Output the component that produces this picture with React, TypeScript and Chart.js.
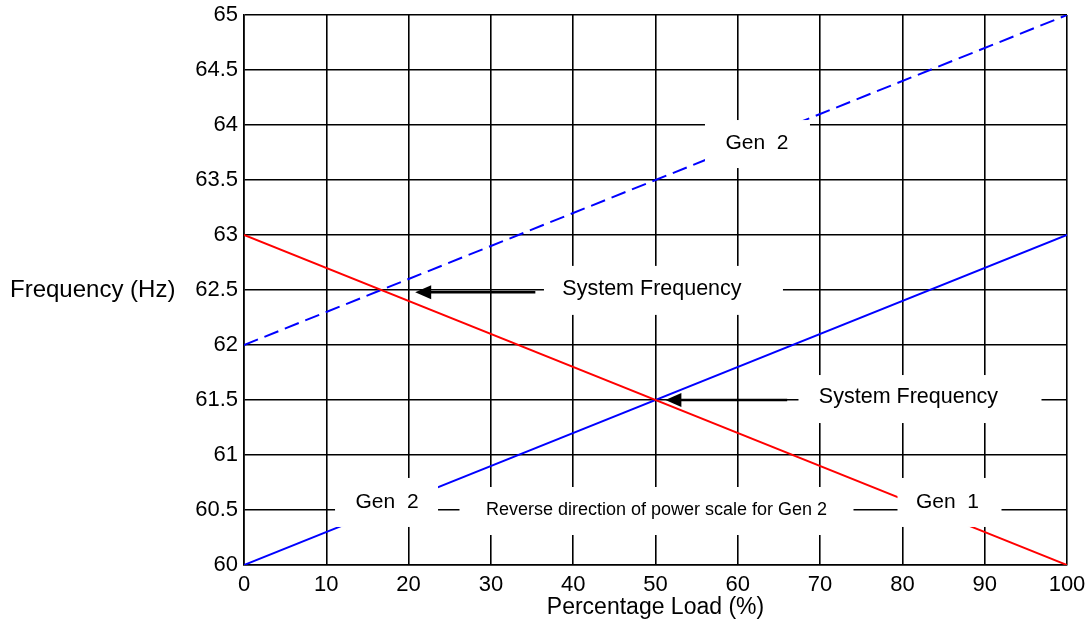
import React, { useEffect, useRef } from "react";
import { Chart, registerables } from "chart.js";

Chart.register(...registerables);

const FONT = '"Liberation Sans", Arial, Helvetica, sans-serif';

// ---- data ----
const loadPct = [0, 100];
const gen1Freq = [63, 60]; // red
const gen2Freq = [60, 63]; // blue solid
const gen2RaisedFreq = [62, 65]; // blue dashed

const xTickValues = [0, 10, 20, 30, 40, 50, 60, 70, 80, 90, 100];
const yTickValues = [60, 60.5, 61, 61.5, 62, 62.5, 63, 63.5, 64, 64.5, 65];

const xTitle = "Percentage Load (%)";
const yTitle = "Frequency (Hz)";

// annotation texts and their anchor (text centre) in data units
const labelTexts = [
  "Gen  2",
  "System Frequency",
  "System Frequency",
  "Gen  2",
  "Reverse direction of power scale for Gen 2",
  "Gen  1",
];
const labelX = [62.33, 49.57, 80.74, 17.38, 50.12, 85.48];
const labelY = [63.836, 62.51, 61.527, 60.573, 60.5, 60.573];

// arrows (tail x -> head x at a frequency level)
const arrowFromX = [35.4, 66.0];
const arrowToX = [20.8, 51.2];
const arrowY = [62.48, 61.5];

// ---- styling ----
const labelFontSize = [21, 21.5, 21.5, 21, 18, 21];
// white box extents around the text centre, px: left, right, top, bottom
const labelBoxes = [
  [52, 53, 23, 25],
  [108, 131, 23, 26],
  [110, 133, 22, 26],
  [52, 51, 24, 25],
  [197, 197, 23, 25],
  [50, 54, 24, 25],
];

const annotationPlugin = {
  id: "annotations",
  afterDatasetsDraw(chart: any) {
    const { ctx, chartArea } = chart;
    const xs = chart.scales.x;
    const ys = chart.scales.y;
    ctx.save();
    labelTexts.forEach((t, i) => {
      const cx = xs.getPixelForValue(labelX[i]);
      const cy = ys.getPixelForValue(labelY[i]);
      const [l, r, tp, b] = labelBoxes[i];
      ctx.fillStyle = "#ffffff";
      ctx.fillRect(cx - l, cy - tp, l + r, tp + b);
      ctx.fillStyle = "#000000";
      ctx.font = `${labelFontSize[i]}px ${FONT}`;
      ctx.textAlign = "center";
      ctx.textBaseline = "middle";
      ctx.fillText(t, cx, cy);
    });
    arrowFromX.forEach((fx, i) => {
      const x0 = xs.getPixelForValue(fx);
      const x1 = xs.getPixelForValue(arrowToX[i]);
      const yy = ys.getPixelForValue(arrowY[i]);
      const headLen = 16;
      const headHalf = 7;
      ctx.strokeStyle = "#000";
      ctx.lineWidth = 2.5;
      ctx.beginPath();
      ctx.moveTo(x0, yy);
      ctx.lineTo(x1 + headLen - 1, yy);
      ctx.stroke();
      ctx.fillStyle = "#000";
      ctx.beginPath();
      ctx.moveTo(x1, yy);
      ctx.lineTo(x1 + headLen, yy - headHalf);
      ctx.lineTo(x1 + headLen, yy + headHalf);
      ctx.closePath();
      ctx.fill();
    });
    ctx.fillStyle = "#000";
    ctx.font = `24px ${FONT}`;
    ctx.textAlign = "left";
    ctx.textBaseline = "middle";
    ctx.fillText(yTitle, 10, (chartArea.top + chartArea.bottom) / 2);
    ctx.restore();
  },
};

export default function App() {
  const canvasRef = useRef<HTMLCanvasElement | null>(null);

  useEffect(() => {
    const canvas = canvasRef.current;
    if (!canvas) return;
    const toPts = (ys: number[]) => loadPct.map((x, i) => ({ x, y: ys[i] }));
    const chart = new Chart(canvas, {
      type: "line",
      data: {
        datasets: [
          {
            label: "Gen 1",
            data: toPts(gen1Freq),
            borderColor: "#ff0000",
            borderWidth: 2,
            pointRadius: 0,
            tension: 0,
          },
          {
            label: "Gen 2",
            data: toPts(gen2Freq),
            borderColor: "#0000ff",
            borderWidth: 2,
            pointRadius: 0,
            tension: 0,
          },
          {
            label: "Gen 2 (raised)",
            data: toPts(gen2RaisedFreq),
            borderColor: "#0000ff",
            borderWidth: 2,
            borderDash: [15, 7],
            pointRadius: 0,
            tension: 0,
          },
        ],
      },
      options: {
        animation: false,
        responsive: false,
        devicePixelRatio: 1,
        layout: { padding: { top: 15, right: 22, left: 0, bottom: 0 } },
        plugins: {
          legend: { display: false },
          tooltip: { enabled: false },
        },
        scales: {
          x: {
            type: "linear",
            min: 0,
            max: 100,
            afterBuildTicks: (s: any) => {
              s.ticks = xTickValues.map((v) => ({ value: v }));
            },
            afterFit: (s: any) => {
              s.height = 56;
            },
            grid: { color: "#000", lineWidth: 1.6, drawTicks: false },
            border: { color: "#000", width: 1.6 },
            ticks: {
              color: "#000",
              font: { family: FONT, size: 22, lineHeight: 1.56 },
              padding: 3,
              maxRotation: 0,
              autoSkip: false,
              callback: (v: any) => String(v),
            },
            title: {
              display: true,
              text: xTitle,
              color: "#000",
              font: { family: FONT, size: 23 },
              padding: { top: 0, bottom: 0 },
            },
          },
          y: {
            type: "linear",
            min: 60,
            max: 65,
            afterBuildTicks: (s: any) => {
              s.ticks = yTickValues.map((v) => ({ value: v }));
            },
            afterFit: (s: any) => {
              s.width = 244;
            },
            grid: { color: "#000", lineWidth: 1.6, drawTicks: false },
            border: { color: "#000", width: 1.6 },
            ticks: {
              color: "#000",
              font: { family: FONT, size: 22, lineHeight: 0.7 },
              padding: 6,
              autoSkip: false,
              callback: (v: any) => String(v),
            },
          },
        },
      },
      plugins: [annotationPlugin],
    });
    return () => chart.destroy();
  }, []);

  return (
    <div
      style={{
        position: "fixed",
        left: 0,
        top: 0,
        width: 1089,
        height: 621,
        background: "#fff",
      }}
    >
      <canvas ref={canvasRef} width={1089} height={621} />
    </div>
  );
}
